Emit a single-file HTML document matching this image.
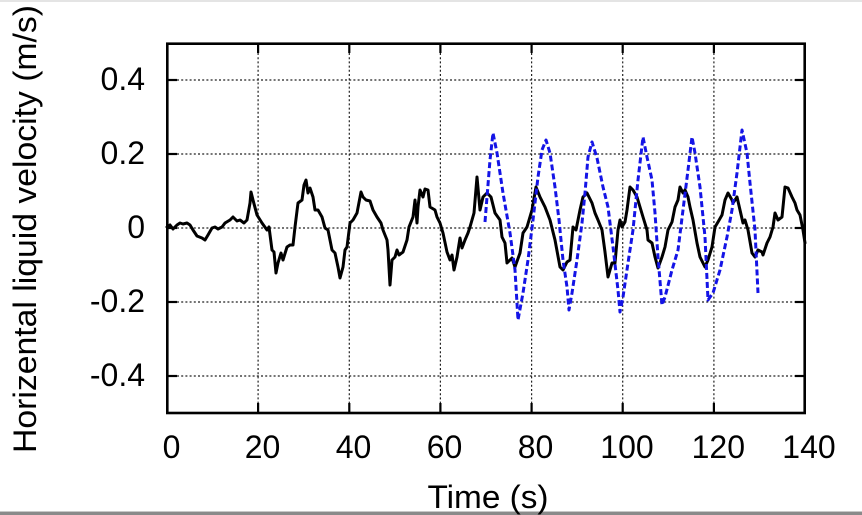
<!DOCTYPE html>
<html>
<head>
<meta charset="utf-8">
<style>
  html, body { margin: 0; padding: 0; background: #ffffff; }
  svg { display: block; }
  text { font-family: "Liberation Sans", "DejaVu Sans", sans-serif; fill: #000; }
</style>
</head>
<body>
<svg width="862" height="515" viewBox="0 0 862 515" xmlns="http://www.w3.org/2000/svg">
  <rect x="0" y="0" width="862" height="515" fill="#ffffff"/>
  <rect x="0" y="0" width="862" height="2" fill="#e4e4e4"/>
  <rect x="0" y="511" width="862" height="1" fill="#c8c8c8"/>
  <rect x="0" y="512" width="862" height="3" fill="#8a8a8a"/>

  <!-- grid -->
  <g stroke="#222" stroke-width="1.2" stroke-dasharray="2 2.2" fill="none">
    <line x1="177" y1="80" x2="795" y2="80"/>
    <line x1="177" y1="154" x2="795" y2="154"/>
    <line x1="177" y1="228" x2="795" y2="228"/>
    <line x1="177" y1="302" x2="795" y2="302"/>
    <line x1="177" y1="376" x2="795" y2="376"/>
    <line x1="258.1" y1="53" x2="258.1" y2="403"/>
    <line x1="349.3" y1="53" x2="349.3" y2="403"/>
    <line x1="440.4" y1="53" x2="440.4" y2="403"/>
    <line x1="531.6" y1="53" x2="531.6" y2="403"/>
    <line x1="622.7" y1="53" x2="622.7" y2="403"/>
    <line x1="713.9" y1="53" x2="713.9" y2="403"/>
  </g>

  <!-- ticks -->
  <g stroke="#000" stroke-width="2.2">
    <line x1="167" y1="80" x2="177" y2="80"/><line x1="795" y1="80" x2="805" y2="80"/>
    <line x1="167" y1="154" x2="177" y2="154"/><line x1="795" y1="154" x2="805" y2="154"/>
    <line x1="167" y1="228" x2="177" y2="228"/><line x1="795" y1="228" x2="805" y2="228"/>
    <line x1="167" y1="302" x2="177" y2="302"/><line x1="795" y1="302" x2="805" y2="302"/>
    <line x1="167" y1="376" x2="177" y2="376"/><line x1="795" y1="376" x2="805" y2="376"/>
    <line x1="258.1" y1="43.5" x2="258.1" y2="53"/><line x1="258.1" y1="403" x2="258.1" y2="413"/>
    <line x1="349.3" y1="43.5" x2="349.3" y2="53"/><line x1="349.3" y1="403" x2="349.3" y2="413"/>
    <line x1="440.4" y1="43.5" x2="440.4" y2="53"/><line x1="440.4" y1="403" x2="440.4" y2="413"/>
    <line x1="531.6" y1="43.5" x2="531.6" y2="53"/><line x1="531.6" y1="403" x2="531.6" y2="413"/>
    <line x1="622.7" y1="43.5" x2="622.7" y2="53"/><line x1="622.7" y1="403" x2="622.7" y2="413"/>
    <line x1="713.9" y1="43.5" x2="713.9" y2="53"/><line x1="713.9" y1="403" x2="713.9" y2="413"/>
  </g>

  <!-- black series -->
  <polyline fill="none" stroke="#000" stroke-width="3" stroke-linejoin="round" stroke-linecap="round"
    points="167,227 170,225 173,229 177,225 180,223 183,224 187,223 190,225 193,230 197,236 202,238 205,240 208,235 212,228 215,227 218,229 222,227 225,223 230,220 233,217 237,221 240,220 244,223 247,220 250,203 251,192 253,200 257,215 262,223 267,230 269,227 272,250 274,252 276,273 278,263 281,253 283,260 287,247 290,245 293,245 295,227 298,203 302,200 304,185 306,180 308,193 310,188 313,197 315,210 318,210 322,217 325,228 328,230 332,250 335,253 338,267 340,278 343,267 345,250 347,247 350,223 353,220 357,213 361,192 363,197 366,200 370,201 373,210 377,217 381,223 383,230 387,240 388,250 390,285 392,260 395,257 397,250 399,255 403,252 407,240 409,227 413,217 415,200 417,223 418,207 420,190 423,197 425,189 428,190 430,207 435,210 437,217 440,223 443,233 447,252 450,260 452,255 454,270 457,257 460,238 462,248 465,240 468,233 470,227 474,213 477,177 480,210 483,197 487,193 491,197 495,213 500,220 502,237 505,243 507,263 512,258 515,267 520,253 523,233 527,227 532,210 536,187 540,197 545,207 550,220 555,240 560,267 563,270 567,262 570,260 573,227 576,230 580,210 583,197 587,193 592,203 595,213 598,220 602,230 605,252 608,277 612,263 615,263 618,230 620,220 622,227 625,222 627,210 630,187 633,190 637,197 640,207 643,217 647,230 648,240 652,243 655,257 658,268 662,257 665,247 668,230 672,222 675,207 678,200 680,187 683,193 685,190 688,197 690,207 693,220 697,243 700,257 705,267 708,260 712,247 715,227 718,222 722,215 725,200 728,193 732,200 733,203 737,197 740,210 743,223 745,220 748,230 752,253 755,257 758,250 762,252 763,255 767,243 770,237 773,227 775,213 778,220 782,217 785,187 788,188 792,197 795,203 797,210 800,215 803,230 805,243"/>

  <!-- blue dashed series -->
  <polyline fill="none" stroke="#1414e6" stroke-width="3" stroke-dasharray="6 3" stroke-linejoin="round"
    points="485,222 490,160 493,133 497,153 503,193 510,233 515,270 518,320 523,293 528,260 533,220 538,177 542,150 546,140 550,153 555,187 559,220 563,260 567,287 569,310 572,293 577,260 582,223 585,193 588,157 592,142 597,158 603,187 608,207 613,247 618,290 620,312 623,297 628,263 633,230 638,180 643,137 647,157 652,180 655,213 658,257 662,305 665,297 672,270 678,250 683,210 688,170 692,137 695,153 700,187 705,237 708,300 713,293 720,270 727,237 732,210 737,173 742,130 747,153 750,183 755,230 758,293"/>

  <!-- frame -->
  <rect x="167.3" y="43.7" width="637.4" height="369.3" fill="none" stroke="#000" stroke-width="2.6"/>

  <!-- y tick labels -->
  <g font-size="32" text-anchor="end">
    <text x="145" y="90">0.4</text>
    <text x="145" y="164">0.2</text>
    <text x="145" y="238">0</text>
    <text x="145" y="312">-0.2</text>
    <text x="145" y="386">-0.4</text>
  </g>

  <!-- x tick labels -->
  <g font-size="32" text-anchor="middle">
    <text x="171.5" y="458">0</text>
    <text x="262.5" y="458">20</text>
    <text x="353.5" y="458">40</text>
    <text x="444.5" y="458">60</text>
    <text x="535.5" y="458">80</text>
    <text x="627" y="458">100</text>
    <text x="718.3" y="458">120</text>
    <text x="809" y="458">140</text>
  </g>

  <!-- axis labels -->
  <text x="488" y="508" font-size="32" text-anchor="middle" textLength="121" lengthAdjust="spacingAndGlyphs">Time (s)</text>
  <text transform="translate(36,229) rotate(-90)" font-size="32" text-anchor="middle" textLength="448" lengthAdjust="spacingAndGlyphs">Horizental liquid velocity (m/s)</text>
</svg>
</body>
</html>
